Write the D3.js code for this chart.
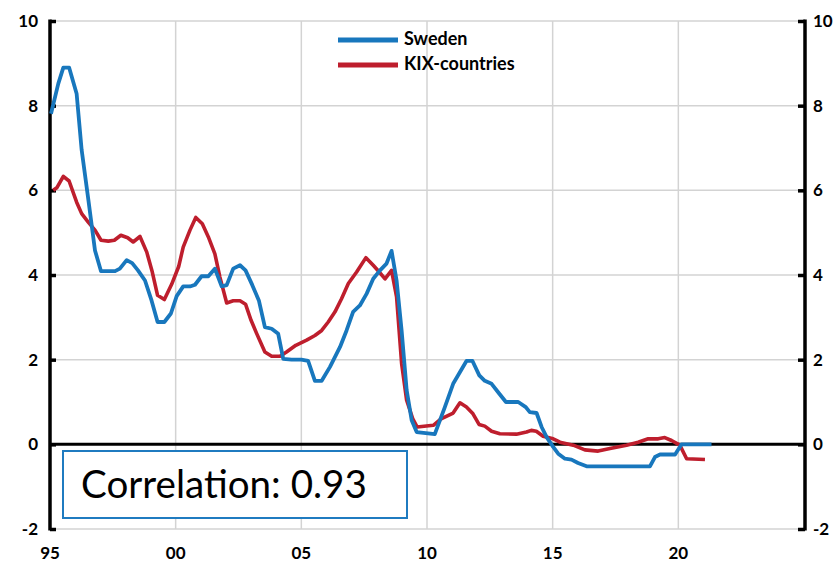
<!DOCTYPE html>
<html><head><meta charset="utf-8">
<script src="https://cdn.jsdelivr.net/npm/d3@7"></script>
<style>body{margin:0;background:#fff}svg{display:block}</style>
</head><body><svg id="c" width="838" height="563"></svg>
<script>
// Years (decimal) and values
const sweDates = [1995.04,1995.33,1995.53,1995.76,1996.06,1996.26,1996.53,1996.79,1997.03,1997.59,1997.78,1998.05,1998.27,1998.5,1998.78,1999.04,1999.28,1999.55,1999.81,2000.04,2000.30,2000.57,2000.77,2001.03,2001.30,2001.56,2001.83,2002.03,2002.29,2002.56,2002.78,2003.05,2003.31,2003.55,2003.82,2004.08,2004.28,2004.61,2005.0,2005.27,2005.54,2005.81,2006.14,2006.54,2006.8,2007.06,2007.33,2007.6,2007.86,2008.13,2008.39,2008.59,2008.79,2008.99,2009.19,2009.39,2009.59,2010.31,2010.71,2011.04,2011.57,2011.81,2012.08,2012.30,2012.57,2012.87,2013.14,2013.63,2013.93,2014.09,2014.36,2014.56,2014.76,2015.02,2015.22,2015.49,2015.75,2016.01,2016.35,2018.87,2019.07,2019.27,2019.87,2020.13,2021.32];
const sweValues = [7.81,8.52,8.9,8.9,8.28,6.95,5.76,4.58,4.09,4.09,4.15,4.35,4.28,4.11,3.87,3.4,2.89,2.89,3.09,3.5,3.73,3.73,3.77,3.97,3.97,4.15,3.73,3.76,4.15,4.23,4.11,3.76,3.4,2.77,2.73,2.61,2.02,2.0,2.0,1.97,1.5,1.5,1.83,2.3,2.69,3.13,3.28,3.56,3.91,4.11,4.27,4.57,3.87,2.69,1.28,0.57,0.29,0.24,0.88,1.43,1.97,1.97,1.63,1.5,1.43,1.2,1.0,1.0,0.88,0.76,0.74,0.41,0.17,-0.06,-0.22,-0.34,-0.36,-0.44,-0.52,-0.52,-0.3,-0.24,-0.24,0,0];
const kixDates = [1995.13,1995.27,1995.53,1995.76,1996.06,1996.26,1996.52,1996.79,1997.03,1997.32,1997.56,1997.82,1998.09,1998.31,1998.58,1998.85,1999.07,1999.28,1999.55,1999.84,2000.12,2000.30,2000.57,2000.80,2001.06,2001.30,2001.56,2001.76,2002.03,2002.29,2002.56,2002.78,2003.0,2003.22,2003.55,2003.82,2004.15,2004.41,2004.78,2005.21,2005.54,2005.81,2006.07,2006.34,2006.6,2006.87,2007.2,2007.57,2007.86,2008.1,2008.33,2008.59,2008.79,2008.99,2009.19,2009.43,2009.61,2010.25,2010.58,2011.04,2011.31,2011.57,2011.83,2012.07,2012.30,2012.57,2012.90,2013.56,2013.96,2014.15,2014.35,2014.62,2015.02,2015.29,2015.82,2016.28,2016.81,2017.28,2017.94,2018.40,2018.80,2019.2,2019.46,2019.73,2020.06,2020.33,2021.06];
const kixValues = [6.0,6.06,6.33,6.22,5.72,5.45,5.25,5.06,4.82,4.8,4.82,4.94,4.88,4.78,4.91,4.54,4.07,3.52,3.42,3.78,4.2,4.66,5.06,5.36,5.21,4.9,4.5,3.95,3.34,3.39,3.39,3.31,2.93,2.62,2.18,2.08,2.08,2.18,2.34,2.46,2.57,2.69,2.89,3.13,3.44,3.8,4.07,4.41,4.23,4.07,3.91,4.11,3.48,1.91,1.04,0.61,0.41,0.45,0.61,0.74,0.98,0.88,0.72,0.47,0.43,0.31,0.25,0.24,0.29,0.33,0.31,0.19,0.13,0.05,-0.02,-0.13,-0.16,-0.1,-0.02,0.05,0.13,0.13,0.16,0.09,-0.02,-0.34,-0.36];
const seriesNames = ["Sweden","KIX-countries"];
const seriesColors = ["#1877bd","#be1e2d"];
const xTickYears = [1995,2000,2005,2010,2015,2020];
const xTickLabels = ["95","00","05","10","15","20"];
const yTicks = [-2,0,2,4,6,8,10];
const correlationText = "Correlation: 0.93";

const svg = d3.select("#c");
const L = 50, R = 805, T = 21, B = 529;
const x = d3.scaleLinear().domain([1995,2025]).range([L,804]);
const y = d3.scaleLinear().domain([-2,10]).range([B,T]);
const font = "Lato, 'Open Sans', sans-serif";

// grid
const g = svg.append("g");
g.selectAll(".hg").data(yTicks.filter(d=>d!==0)).join("line")
 .attr("x1",L).attr("x2",R).attr("y1",d=>y(d)).attr("y2",d=>y(d))
 .attr("stroke","#d3d3d3").attr("stroke-width",1.5);
g.selectAll(".vg").data(xTickYears.slice(1)).join("line")
 .attr("x1",d=>x(d)).attr("x2",d=>x(d)).attr("y1",T).attr("y2",B)
 .attr("stroke","#d3d3d3").attr("stroke-width",1.5);

// zero line
svg.append("line").attr("x1",L).attr("x2",R).attr("y1",y(0)).attr("y2",y(0))
 .attr("stroke","#000").attr("stroke-width",3);

// axes
const la = svg.append("g").attr("transform",`translate(${L},0)`)
 .call(d3.axisRight(y).tickValues(yTicks).tickSize(6).tickFormat(""));
la.select(".domain").attr("stroke","#000").attr("stroke-width",3.5).attr("d",`M0,${T-1.5}V${B+1.5}`);
la.selectAll(".tick line").attr("stroke","#000").attr("stroke-width",3.5);
const ra = svg.append("g").attr("transform",`translate(${R},0)`)
 .call(d3.axisLeft(y).tickValues(yTicks).tickSize(7).tickFormat(""));
ra.select(".domain").attr("stroke","#000").attr("stroke-width",3.5).attr("d",`M0,${T-1.5}V${B+1.5}`);
ra.selectAll(".tick line").attr("stroke","#000").attr("stroke-width",3.5);

// tick labels
svg.selectAll(".yl").data(yTicks).join("text")
 .attr("x",38).attr("y",d=>y(d)).attr("dy","0.36em").attr("text-anchor","end")
 .attr("font-family",font).attr("font-weight",700).attr("font-size",17).text(d=>d);
svg.selectAll(".yr").data(yTicks).join("text")
 .attr("x",813).attr("y",d=>y(d)).attr("dy","0.36em").attr("text-anchor","start")
 .attr("font-family",font).attr("font-weight",700).attr("font-size",17).text(d=>d);
svg.selectAll(".xl").data(xTickYears).join("text")
 .attr("x",(d)=>x(d)).attr("y",559).attr("text-anchor","middle")
 .attr("font-family",font).attr("font-weight",700).attr("font-size",17).text((d,i)=>xTickLabels[i]);

// lines
const line = d3.line().x(d=>x(d[0])).y(d=>y(d[1]));
const swe = sweDates.map((d,i)=>[d,sweValues[i]]);
const kix = kixDates.map((d,i)=>[d,kixValues[i]]);
svg.append("path").datum(kix).attr("d",line).attr("fill","none")
 .attr("stroke",seriesColors[1]).attr("stroke-width",3.6).attr("stroke-linejoin","round");
svg.append("path").datum(swe).attr("d",line).attr("fill","none")
 .attr("stroke",seriesColors[0]).attr("stroke-width",3.8).attr("stroke-linejoin","round");

// legend
const lg = svg.append("g");
[40,65].forEach((ly,i)=>{
  lg.append("line").attr("x1",338).attr("x2",398).attr("y1",ly).attr("y2",ly)
    .attr("stroke",seriesColors[i]).attr("stroke-width",5);
  lg.append("text").attr("x",404).attr("y",ly).attr("dy","0.3em")
    .attr("font-family",font).attr("font-weight",700).attr("font-size",18).text(seriesNames[i]);
});

// correlation box
svg.append("rect").attr("x",63).attr("y",451).attr("width",344).attr("height",67)
 .attr("fill","#fff").attr("stroke","#1f7bc0").attr("stroke-width",2);
const ct = svg.append("text").attr("x",81).attr("y",498)
 .attr("font-family",font).attr("font-size",36).attr("fill","#000").text(correlationText);
const w = ct.node().getComputedTextLength();
ct.attr("font-size",36*286/w);
</script></body></html>
